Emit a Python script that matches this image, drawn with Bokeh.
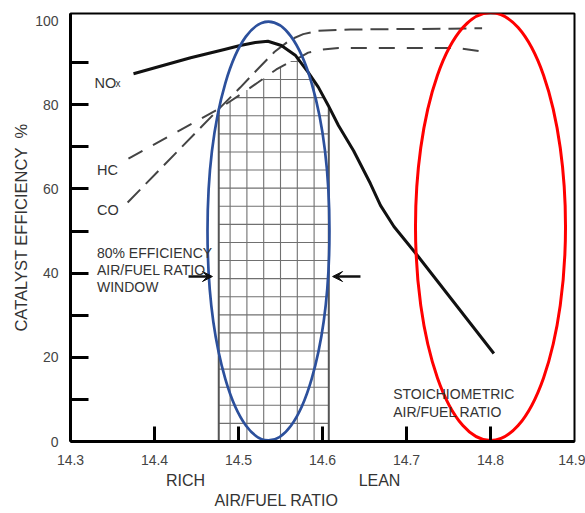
import numpy as np
from bokeh.plotting import figure
from bokeh.models import Range1d, FixedTicker, Label, Arrow, VeeHead, LinearAxis
from bokeh.embed import file_html
from bokeh.resources import INLINE

# ---------------- data ----------------
x_ticks = [14.3, 14.4, 14.5, 14.6, 14.7, 14.8, 14.9]
x_tick_marks = [14.4, 14.5, 14.6, 14.7, 14.8]
y_ticks = [0, 20, 40, 60, 80, 100]
y_tick_marks = [10, 20, 30, 40, 50, 60, 70, 80, 90]

nox_ratio = [14.375, 14.443, 14.482, 14.502, 14.520, 14.535, 14.551, 14.568, 14.583,
             14.595, 14.607, 14.619, 14.637, 14.657, 14.669, 14.685, 14.713, 14.804]
nox_eff = [87.4, 91.2, 93.1, 94.1, 94.8, 95.1, 94.1, 91.7, 87.7,
           84.2, 79.8, 75.1, 69.1, 61.3, 56.1, 51.1, 44.2, 20.9]

hc_ratio = [14.369, 14.477, 14.502, 14.523, 14.545, 14.562, 14.574, 14.583, 14.598,
            14.619, 14.693, 14.761, 14.792]
hc_eff = [67.2, 79.1, 82.4, 85.3, 88.4, 90.3, 91.4, 92.4, 93.1,
          93.5, 93.5, 93.5, 92.6]

co_ratio = [14.368, 14.477, 14.502, 14.521, 14.543, 14.562, 14.577, 14.595, 14.633,
            14.693, 14.752, 14.790]
co_eff = [56.8, 79.1, 84.1, 88.1, 92.6, 95.5, 96.8, 97.6, 97.9,
          98.0, 98.1, 98.2]

# 80% efficiency window (air/fuel ratio bounds) and its hatch grid
window_lo = 14.4765
window_hi = 14.6075
hatch_x = [14.49, 14.51, 14.53, 14.55, 14.57, 14.59]
hatch_dy = 4.3

# region labels under the axis
side_pos = [14.4369, 14.6679]
side_names = ["RICH", "LEAN"]
title_pos = [14.5452]
title_names = ["AIR/FUEL RATIO"]

# ellipses (centre x, centre y, width, height)
blue_ell = (14.5357, 50.0, 0.1452, 99.5)
red_ell = (14.800, 51.07, 0.1786, 101.7)

FONT = "Liberation Sans"
TXT = "#333333"

p = figure(width=585, height=513,
           x_range=Range1d(14.3, 14.9), y_range=Range1d(0, 101.7),
           output_backend="svg", toolbar_location=None,
           min_border_left=70, min_border_right=11,
           min_border_top=13, min_border_bottom=72)
p.background_fill_color = "white"
p.border_fill_color = "white"
p.outline_line_color = "black"
p.outline_line_width = 2
p.xgrid.visible = False
p.ygrid.visible = False

# ---- axes ----
xa = p.xaxis[0]
xa.ticker = FixedTicker(ticks=x_ticks, minor_ticks=x_tick_marks)
xa.major_tick_line_color = None
xa.major_tick_in = 0
xa.major_tick_out = 0
xa.minor_tick_in = 15
xa.minor_tick_out = 0
xa.minor_tick_line_width = 3
xa.minor_tick_line_color = "black"
xa.axis_line_width = 3
xa.axis_line_color = "black"
xa.major_label_standoff = 13
xa.major_label_text_font = FONT
xa.major_label_text_font_size = "14px"
xa.major_label_text_color = "#444444"

ya = p.yaxis[0]
ya.ticker = FixedTicker(ticks=y_ticks, minor_ticks=y_tick_marks)
ya.major_tick_line_color = None
ya.major_tick_in = 0
ya.major_tick_out = 0
ya.minor_tick_in = 18
ya.minor_tick_out = 0
ya.minor_tick_line_width = 3
ya.minor_tick_line_color = "black"
ya.axis_line_width = 3
ya.axis_line_color = "black"
ya.major_label_standoff = 12
ya.major_label_text_font = FONT
ya.major_label_text_font_size = "14px"
ya.major_label_text_color = "#444444"
ya.axis_label = "CATALYST EFFICIENCY\u00a0 %"
ya.axis_label_text_font = FONT
ya.axis_label_text_font_size = "16.5px"
ya.axis_label_text_font_style = "normal"
ya.axis_label_text_color = TXT
ya.axis_label_standoff = 2


def label_axis(pos, names, standoff):
    ax = LinearAxis(ticker=FixedTicker(ticks=pos, minor_ticks=[]),
                    major_label_overrides={k: v for k, v in zip(pos, names)})
    ax.axis_line_color = None
    ax.major_tick_line_color = None
    ax.minor_tick_line_color = None
    ax.major_tick_in = 0
    ax.major_tick_out = 0
    ax.minor_tick_in = 0
    ax.minor_tick_out = 0
    ax.major_label_standoff = standoff
    ax.major_label_text_font = FONT
    ax.major_label_text_font_size = "16px"
    ax.major_label_text_color = TXT
    p.add_layout(ax, "below")


label_axis(side_pos, side_names, 4)
label_axis(title_pos, title_names, 0)

# ---- hatch grid under the curves inside the window ----
def top_at(x):
    return np.minimum(np.minimum(np.interp(x, hc_ratio, hc_eff),
                                 np.interp(x, co_ratio, co_eff)),
                      np.interp(x, nox_ratio, nox_eff))

xs = np.linspace(window_lo, window_hi, 600)
tops = top_at(xs)
x0, y0, x1, y1 = [], [], [], []
for hx in hatch_x:
    x0.append(hx); y0.append(0); x1.append(hx); y1.append(float(top_at(hx)))
lev = hatch_dy
while lev < tops.max():
    m = tops >= lev
    x0.append(float(xs[m].min())); x1.append(float(xs[m].max()))
    y0.append(lev); y1.append(lev)
    lev += hatch_dy
p.segment(x0=x0, y0=y0, x1=x1, y1=y1, line_color="#707070", line_width=1.1)
p.segment(x0=[window_lo, window_hi], y0=[0, 0], x1=[window_lo, window_hi],
          y1=[float(top_at(window_lo)), float(top_at(window_hi))],
          line_color="#555555", line_width=2)

# ---- curves ----
p.line(hc_ratio, hc_eff, line_color="#444444", line_width=2, line_dash="16 12")
p.line(co_ratio, co_eff, line_color="#444444", line_width=2, line_dash="18 8")
p.line(nox_ratio, nox_eff, line_color="#111111", line_width=3, line_join="round")

# ---- ellipses ----
p.ellipse(x=[blue_ell[0]], y=[blue_ell[1]], width=[blue_ell[2]], height=[blue_ell[3]],
          fill_color=None, line_color="#2c509c", line_width=2.7)
p.ellipse(x=[red_ell[0]], y=[red_ell[1]], width=[red_ell[2]], height=[red_ell[3]],
          fill_color=None, line_color="#ff0000", line_width=3)

# ---- arrows ----
p.add_layout(Arrow(end=VeeHead(size=10, fill_color="#111111", line_color="#111111"),
                   x_start=14.4405, y_start=39.2, x_end=14.4690, y_end=39.2,
                   line_width=2.5, line_color="#111111"))
p.add_layout(Arrow(end=VeeHead(size=10, fill_color="#111111", line_color="#111111"),
                   x_start=14.6452, y_start=39.2, x_end=14.6120, y_end=39.2,
                   line_width=2.5, line_color="#111111"))

# ---- text ----
def txt(x, y, s, size="14px"):
    p.add_layout(Label(x=x, y=y, text=s, text_font=FONT, text_font_size=size,
                       text_align="left", text_baseline="alphabetic", text_color=TXT))

txt(14.3286, 85.1, "NO", size="14.5px")
txt(14.3536, 85.1, "x", size="10px")
txt(14.3315, 64.5, "HC", size="14.5px")
txt(14.3315, 54.9, "CO", size="14.5px")
txt(14.3315, 44.7, "80% EFFICIENCY")
txt(14.3315, 40.8, "AIR/FUEL RATIO")
txt(14.3315, 36.6, "WINDOW")
txt(14.6842, 11.2, "STOICHIOMETRIC")
txt(14.6842, 7.0, "AIR/FUEL RATIO")

open("out.html", "w").write(file_html(p, INLINE))
